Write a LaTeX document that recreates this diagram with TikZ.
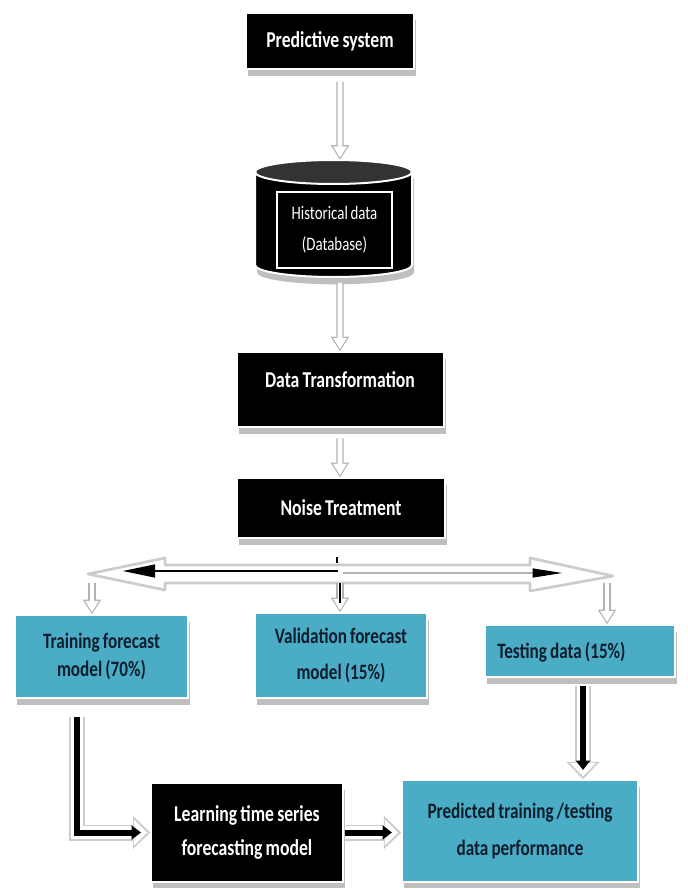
\documentclass[tikz,border=0pt]{standalone}
\usepackage{fontspec}
\setmainfont{Carlito}[FakeStretch=0.78,WordSpace=0.8]
\usetikzlibrary{arrows.meta,shadows}
\definecolor{tealfill}{HTML}{4BACC6}
\definecolor{tealtext}{HTML}{0E1E2C}
\begin{document}
\begin{tikzpicture}[x=0.75pt,y=-0.75pt,
  shadowed/.style={drop shadow={shadow xshift=1.5pt, shadow yshift=-5.5pt, fill=black!25, opacity=1}},
  blackbox/.style={shadowed, fill=black, draw=white, line width=1.2pt, text=white,
    font=\bfseries\fontsize{17}{22}\selectfont, align=center, inner sep=0pt},
  tealbox/.style={shadowed, fill=tealfill, draw=white, line width=1.2pt, text=tealtext,
    font=\bfseries\fontsize{16.5}{21}\selectfont, align=center, inner sep=0pt},
  hol/.style={
    preaction={draw=gray!60, line width=5.5pt, shorten >=0pt, -{Triangle[length=11pt,width=14pt,line width=0pt]}},
    draw=white, line width=3.5pt, shorten >=1.6pt, -{Triangle[length=8.4pt,width=10.5pt,line width=0pt]}},
  blk/.style={
    preaction={draw=gray!40, line width=12pt, shorten >=0pt, -{Triangle[length=13pt,width=25pt,line width=0pt]}},
    preaction={draw=white, line width=9.5pt, shorten >=2.2pt, -{Triangle[length=10pt,width=19.5pt,line width=0pt]}},
    draw=black, line width=4.5pt, shorten >=7pt, -{Triangle[length=7pt,width=11pt,line width=0pt]}}
]
\useasboundingbox (0,0) rectangle (688,888);

% top box
\node[blackbox, minimum width=126pt, minimum height=42pt] (pred) at (330,41) {Predictive system};

% database cylinder
\node[minimum width=117.75pt, minimum height=87.75pt, inner sep=0pt] (cyl) at (333.5,218.5) {};
\path[shadowed, fill=black, draw=white, line width=1.5pt]
  (255,172) -- (255,265) arc[start angle=180, end angle=360, x radius=58.875pt, y radius=9pt]
  -- (412,172) arc[start angle=0, end angle=180, x radius=58.875pt, y radius=9pt] -- cycle;
\draw[white, fill=black!80, line width=1.5pt] (333.5,172) ellipse [x radius=58.875pt, y radius=9pt];
\node[fill=black, draw=white, line width=2pt, minimum width=86.25pt, minimum height=57pt,
  text=white, font=\fontsize{14.3}{23}\selectfont, align=center, inner sep=0pt] (db) at (334.5,230)
  {Historical data\\(Database)};

\node[blackbox, minimum width=155.25pt, minimum height=56.25pt] (trans) at (340.5,389.5) {};
\node[text=white, font=\bfseries\fontsize{17}{22}\selectfont, inner sep=0pt] (transT) at (340,380) {Data Transformation};
\node[blackbox, minimum width=156pt, minimum height=45pt] (noise) at (341,508) {Noise Treatment};

% vertical hollow arrows
\draw[hol] ([xshift=7.5pt,yshift=-9pt]pred.south) -- ([xshift=4.9pt]cyl.north);
\draw[hol] ([xshift=4.9pt,yshift=-4pt]cyl.south) -- ([xshift=-0.4pt]trans.north);
\draw[hol] ([xshift=-0.4pt,yshift=-8pt]trans.south) -- ([xshift=-0.8pt]noise.north);
\draw[line width=1.3pt] ([xshift=-3pt,yshift=-14pt]noise.south) -- ++(0,-4pt);

% splitter bar
\coordinate (bl) at (88,574);
\coordinate (br) at (613,576);
\coordinate (bm) at (338,571);
\coordinate (bla) at (123,571);
\coordinate (bra) at (562,573);
\coordinate (bmr) at (343,573);
\draw[draw=gray!40, line width=2pt, fill=white, line join=round]
  (bl) -- (165,558) -- (165,565) -- (530,565) -- (530,558) -- (br) -- (530,591)
  -- (530,583) -- (165,583) -- (165,590) -- cycle;
\draw[line width=2.2pt, -{Triangle[length=24pt,width=10pt,line width=0pt]}] (bm) -- (bla);
\draw[draw=gray!60, line width=2.2pt, -{Triangle[length=22pt,width=7pt,line width=0pt,color=black]}] (bmr) -- (bra);

% lower boxes
\node[tealbox, minimum width=129.75pt, minimum height=62.25pt] (train) at (101.5,656.5) {Training forecast\\model (70\%)};
\node[tealbox, minimum width=129pt, minimum height=63.75pt, font=\bfseries\fontsize{16.5}{27}\selectfont] (valid) at (341,655.5) {Validation forecast\\model (15\%)};
\node[tealbox, minimum width=142.5pt, minimum height=39pt] (test) at (580,651) {};
\node[text=tealtext, font=\bfseries\fontsize{16.5}{21}\selectfont, inner sep=0pt, anchor=west] (testT) at (497,652) {Testing data (15\%)};

\coordinate (d1) at (92,583);
\coordinate (d2) at (340,583);
\coordinate (d3) at (607,583);
\draw[hol] (d1) -- (d1 |- train.north);
\draw[hol] (d2) -- (d2 |- valid.north);
\draw[line width=0.9pt] (d2) -- ++(0,20);
\draw[hol] (d3) -- (d3 |- test.north);

\node[blackbox, minimum width=144pt, minimum height=74.25pt, font=\bfseries\fontsize{17}{25}\selectfont] (learn) at (247,832.5) {Learning time series\\forecasting model};
\node[tealbox, minimum width=177pt, minimum height=76.5pt, font=\bfseries\fontsize{16.5}{28}\selectfont] (predb) at (520,831) {Predicted training /testing\\data performance};

% bottom connectors
\draw[blk] ([xshift=-18.4pt,yshift=-14pt]train.south) |- (learn.west);
\draw[blk] ([xshift=2.25pt,yshift=-6pt]test.south) -- ([xshift=2.25pt]test.south |- predb.north);
\draw[blk] ([xshift=1pt]learn.east) -- (learn.east -| predb.west);
\end{tikzpicture}
\end{document}
